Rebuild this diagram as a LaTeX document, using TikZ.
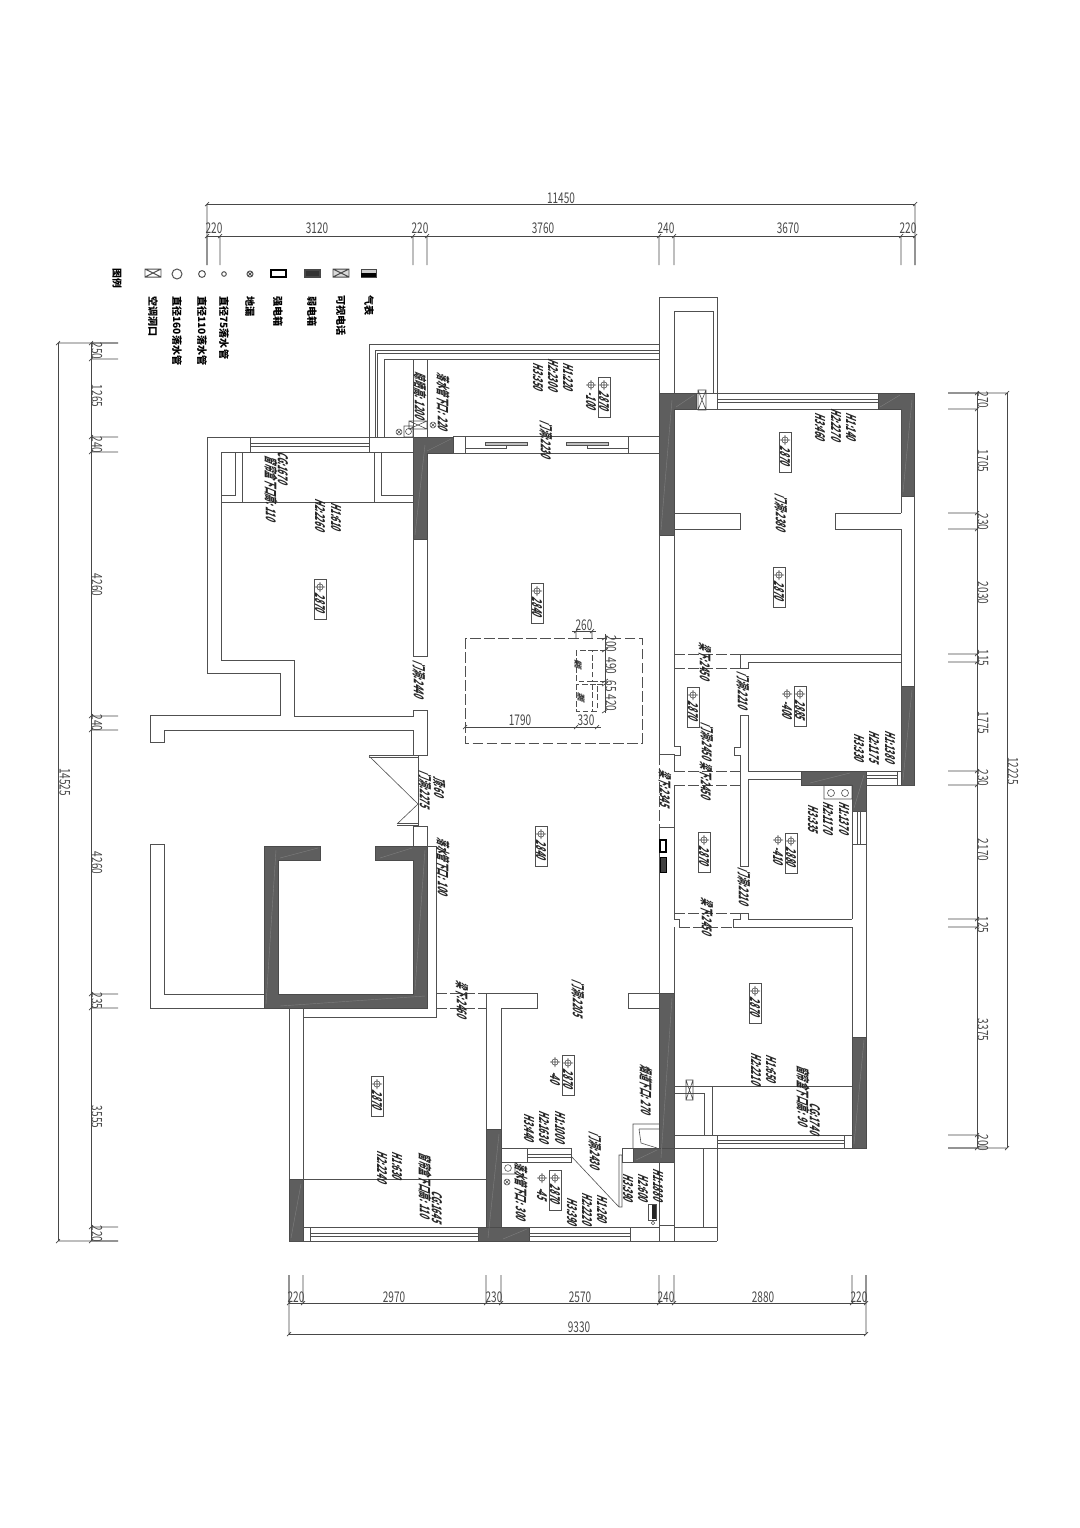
\documentclass[tikz,border=0pt]{standalone}
\usepackage{fontspec}
\setmainfont{Noto Sans CJK SC}
\usetikzlibrary{positioning}
\definecolor{planline}{HTML}{505050}
\definecolor{dimgray}{HTML}{484848}
\definecolor{wallfill}{HTML}{5E5E5E}
\definecolor{wallseam}{HTML}{7E7E7E}

\newcommand{\levelbox}[4]{%
  \node[levelframe] (#1) at (#2,#3+20) {};
  \draw[markline] (#2,#3+8) circle (3.2*0.025cm) (#2-5,#3+8) -- (#2+5,#3+8) (#2,#3+3) -- (#2,#3+13);
  \node[planlabel] (#1t) at (#2,#3+25) {#4};
}
\newcommand{\levelmark}[4]{%
  \draw[markline] (#2,#3) circle (3.2*0.025cm) (#2-5,#3) -- (#2+5,#3) (#2,#3-5) -- (#2,#3+5);
  \node[planlabel] (#1) at (#2,#3+17) {#4};
}

\begin{document}
\begin{tikzpicture}[
    x=0.025cm, y=-0.025cm,
    wall/.style={draw=planline, line width=0.55pt},
    thinwall/.style={draw=planline, line width=0.42pt},
    solidwall/.style={fill=wallfill, draw=wallfill!80!black, line width=0.5pt},
    seam/.style={draw=wallseam, line width=0.3pt},
    dimline/.style={draw=dimgray, line width=0.5pt},
    dashline/.style={draw=planline, line width=0.55pt, dash pattern=on 7.5pt off 2.5pt},
    markline/.style={draw=planline, line width=0.4pt},
    levelframe/.style={draw=planline, line width=0.5pt, minimum width=0.3cm, minimum height=1cm, inner sep=0pt},
    dimlabel/.style={font=\fontsize{10.5}{11}\selectfont, text=dimgray, inner sep=0pt, xscale=0.68},
    sidelabel/.style={font=\fontsize{10.5}{11}\selectfont, text=dimgray, inner sep=0pt, rotate=-90, xscale=0.68},
    planlabel/.style={font=\fontsize{9.6}{10}\selectfont\bfseries, text=black!85, inner sep=0pt, rotate=-90, xslant=0.4, xscale=0.56},
    legendlabel/.style={font=\fontsize{7.2}{8}\selectfont\bfseries, text=black, inner sep=0pt, rotate=-90, anchor=west}
]
\useasboundingbox (0,0) rectangle (1080,1528);
\fill[white] (0,0) rectangle (1080,1528);

% solid walls
\fill[solidwall] (413,437) -- (453,437) -- (453,453) -- (427,453) -- (427,539) -- (413,539) -- cycle;
\fill[solidwall] (659,393) -- (696,393) -- (696,409) -- (674,409) -- (674,535) -- (659,535) -- cycle;
\fill[solidwall] (878,393) -- (914,393) -- (914,496) -- (901,496) -- (901,409) -- (878,409) -- cycle;
\fill[solidwall] (901,686) rectangle (914,785);
\fill[solidwall] (801,771) -- (866,771) -- (866,811) -- (852,811) -- (852,785) -- (801,785) -- cycle;
\fill[solidwall] (264,846) -- (320,846) -- (320,860) -- (278,860) -- (278,994) -- (413,994) -- (413,860) -- (375,860) -- (375,846) -- (427,846) -- (427,1008) -- (264,1008) -- cycle;
\fill[solidwall] (659,993) rectangle (674,1162);
\fill[solidwall] (633,1148) rectangle (674,1162);
\fill[solidwall] (852,1037) rectangle (866,1148);
\fill[solidwall] (289,1179) rectangle (303,1241);
\fill[solidwall] (486,1129) rectangle (501,1241);
\fill[solidwall] (478,1227) rectangle (529,1241);

% seams in the solid walls
\draw[seam] (415,535) -- (425,445) (427,451) -- (451,439);
\draw[seam] (661,530) -- (672,400) (676,407) -- (694,395);
\draw[seam] (903,492) -- (912,400) (880,407) -- (900,395);
\draw[seam] (903,780) -- (912,690) (810,783) -- (850,773) (854,808) -- (864,775);
\draw[seam] (266,1004) -- (276,850) (280,1006) -- (425,996) (415,990) -- (425,850) (380,858) -- (412,848) (280,858) -- (318,848);
\draw[seam] (661,1158) -- (672,998) (636,1160) -- (657,1150);
\draw[seam] (854,1144) -- (864,1040) (291,1238) -- (301,1184) (488,1238) -- (499,1134) (503,1239) -- (527,1229);

% left wing
\draw[wall] (221,452) -- (413,452) (207,437) -- (413,437);
\draw[wall] (207,437) -- (207,673) -- (280,673) -- (280,715) -- (150,715) -- (150,742) -- (164,742) -- (164,730) -- (413,730) -- (413,755) -- (427,755) -- (427,710) -- (413,710) -- (413,716) -- (294,716) -- (294,660) -- (221,660) -- (221,452);
\draw[wall] (413,539) -- (413,656) -- (427,656) -- (427,539);
\draw[wall] (250,437) -- (250,452) (369,437) -- (369,452);
\draw[thinwall] (250,443) -- (369,443) (250,446) -- (369,446);
\draw[wall] (221,502) -- (413,502);
\draw[thinwall] (235,452) -- (235,495) -- (221,495) (242,452) -- (242,502) (374,452) -- (374,502) (381,452) -- (381,495) -- (413,495);
\draw[wall] (413,452) -- (413,437);

% top balcony
\draw[wall] (369,437) -- (369,344) -- (659,344);
\draw[thinwall] (375,437) -- (375,350) -- (659,350) (377,437) -- (377,353) -- (659,353);
\draw[wall] (384,437) -- (384,359) -- (659,359) (413,359) -- (413,437) (427,359) -- (427,437);
\draw[thinwall] (404,426) rectangle (413,437) (409,421) rectangle (427,429) (409,421) -- (427,429) (409,429) -- (427,421);
\draw[markline] (408.5,431.5) circle (3*0.025cm) (399,432) circle (3*0.025cm) (399-2,432-2) -- (399+2,432+2) (399-2,432+2) -- (399+2,432-2);
\draw[markline] (433,425) circle (3*0.025cm) (433-2,425-2) -- (433+2,425+2) (433-2,425+2) -- (433+2,425-2);
\draw[wall] (453,436) -- (659,436) (453,453) -- (659,453) (465,436) -- (465,453) (628,436) -- (628,453);
\draw[thinwall, fill=black!25] (485,442) rectangle (527,445) (566,442) rectangle (608,445);
\draw[thinwall] (465,448) -- (506,448) -- (506,445) (628,448) -- (587,448) -- (587,445);

% upper right tower and bedrooms
\draw[wall] (659,393) -- (659,297) -- (717,297) -- (717,393) (674,393) -- (674,311) -- (713,311) -- (713,393);
\draw[wall] (696,393) -- (878,393) (696,409) -- (878,409) (717,393) -- (717,409);
\draw[thinwall] (717,399) -- (878,399) (717,402) -- (878,402);
\draw[thinwall, draw=dimgray] (698,390) rectangle (706,410) (698,390) -- (706,410) (698,410) -- (706,390);
\draw[wall] (674,513) -- (740,513) -- (740,529) -- (674,529) (901,513) -- (835,513) -- (835,529) -- (901,529);
\draw[wall] (901,409) -- (901,513) (901,529) -- (901,686) (914,496) -- (914,686);
\draw[wall] (740,654) -- (901,654) (748,662) -- (901,662);
\draw[wall] (659,535) -- (659,754) -- (674,754) (659,827) -- (659,993) (659,827) -- (674,827);
\draw[wall] (674,535) -- (674,746) -- (680,746) -- (680,755) -- (674,755) -- (674,771) (674,785) -- (674,919) -- (679,919) -- (679,927) (674,927) -- (674,993);
\draw[dashline] (659,754) -- (659,827) (674,754) -- (674,771) (674,785) -- (674,827);
\draw[wall] (740,654) -- (740,668) -- (748,668) -- (748,662);
\draw[wall] (740,715) -- (748,715) -- (748,771) -- (801,771) (740,715) -- (740,747) -- (734,747) -- (734,755) -- (740,755) -- (740,866) -- (748,866) -- (748,779) -- (801,779);
\draw[dashline] (674,654) -- (740,654) (674,668) -- (740,668) (674,771) -- (740,771) (674,785) -- (740,785) (674,913) -- (740,913) (679,927) -- (733,927);
\draw[wall] (740,913) -- (748,913) -- (748,919) -- (852,919) (740,913) -- (740,919) -- (733,919) -- (733,927) -- (852,927);

% small room on the right, shaft and windows
\draw[wall] (901,771) -- (866,771) (866,785) -- (901,785) (901,686) -- (901,771) (914,785) -- (901,785);
\draw[thinwall] (866,775) -- (897,775) (866,778) -- (897,778) (897,771) -- (897,785);
\draw[thinwall] (824,785) rectangle (852,799) (831,793) circle (3.5*0.025cm) (845,793) circle (3.5*0.025cm);
\draw[wall] (852,799) -- (852,919) (852,811) -- (866,811) (852,844) -- (866,844) (866,811) -- (866,1037);
\draw[thinwall] (857,811) -- (857,844) (860,811) -- (860,844);
\draw[wall] (852,927) -- (852,1037);

% lower right room
\draw[wall] (674,1086) -- (852,1086) (674,1093) -- (704,1093) -- (704,1135) (712,1086) -- (712,1135);
\draw[thinwall, draw=dimgray] (686,1080) rectangle (693,1100) (686,1080) -- (693,1100) (686,1100) -- (693,1080);
\draw[wall] (674,1135) -- (852,1135) (674,1148) -- (852,1148) (717,1135) -- (717,1241) (844,1135) -- (844,1148);
\draw[thinwall] (717,1140) -- (844,1140) (717,1143) -- (844,1143);
\draw[wall] (703,1148) -- (703,1227) -- (674,1227) (659,1162) -- (659,1241) (674,1162) -- (674,1241);

% entrance and left lobby
\draw[wall] (413,826) -- (427,826) -- (427,846) (413,826) -- (413,846);
\draw[thinwall] (369,755) -- (418,755) -- (418,825) -- (397,825) (369,757) -- (418,757) (397,823) -- (418,823);
\draw[thinwall] (369,756) -- (418,804) -- (397,824);
\draw[wall] (264,994) -- (164,994) -- (164,844) -- (150,844) -- (150,1008) -- (264,1008);
\draw[wall] (427,846) -- (436,846) -- (436,1017) -- (303,1017);
\draw[dashline] (436,993.5) -- (486,993.5) (436,1008) -- (486,1008);

% lower left room
\draw[wall] (289,1008) -- (289,1179) (303,1008) -- (303,1179) (303,1179) -- (486,1179);
\draw[wall] (486,993) -- (537,993) -- (537,1008) -- (501,1008) -- (501,1129) (486,993) -- (486,1129);
\draw[wall] (628,993) -- (659,993) (628,1008) -- (659,1008) (628,993) -- (628,1008);
\draw[wall] (289,1241) -- (478,1241) (303,1227) -- (478,1227) (310,1227) -- (310,1241);
\draw[thinwall] (310,1233) -- (478,1233) (310,1236) -- (478,1236);

% kitchen and bathroom
\draw[wall] (501,1148) -- (571,1148) -- (571,1162) -- (501,1162) (527,1148) -- (527,1162);
\draw[thinwall] (527,1154) -- (571,1154) (527,1157) -- (571,1157);
\draw[thinwall] (501,1174) -- (515,1174) -- (515,1162) (508,1168) circle (3.4*0.025cm) (507,1182) circle (3*0.025cm) (507-2,1182-2) -- (507+2,1182+2) (507-2,1182+2) -- (507+2,1182-2);
\draw[thinwall] (571,1156) -- (619,1207) -- (622,1207) -- (622,1155) -- (619,1155) -- (619,1207);
\draw[wall] (622,1162) -- (622,1148) -- (633,1148) (622,1162) -- (659,1162);
\draw[thinwall] (633,1148) -- (633,1124) -- (659,1124) (639,1129) -- (659,1129) (639,1129) -- (641,1143) -- (657,1148);
\draw[wall] (529,1227) -- (659,1227) (529,1241) -- (717,1241) (630,1227) -- (630,1241) (659,1225) -- (674,1225) (703,1227) -- (717,1227);
\draw[thinwall] (529,1233) -- (630,1233) (529,1236) -- (630,1236);
\draw[wall] (501,1162) -- (501,1227);

% boxes on the walls
\draw[line width=1pt, draw=black, fill=white] (660,840) rectangle (666,852);
\draw[line width=0.6pt, draw=black, fill=black!75] (660,857) rectangle (666,872);
\draw[line width=0.6pt, draw=planline, fill=white] (648,1204) rectangle (656,1220);
\fill[black!85] (652,1205) rectangle (655.5,1219);
\draw[markline] (653,1223) circle (1.7*0.025cm);

% dashed area
\draw[dashline] (465,638) rectangle (642,743);
\draw[dashline, dash pattern=on 4pt off 2pt] (576,650) rectangle (592,681) (592,650) -- (606,650) (592,681) -- (606,681);
\draw[dashline, dash pattern=on 4pt off 2pt] (576,684) rectangle (597,711) (597,684) -- (606,684) (592,684) -- (592,711);
\node[planlabel, font=\fontsize{5.6}{6}\selectfont\bfseries] (cabinetA) at (578,665) {餐柜};
\node[planlabel, font=\fontsize{5.6}{6}\selectfont\bfseries] (cabinetB) at (581,698) {酒柜};
\draw[dimline] (465,727) -- (601,727) (605,634) -- (605,713) (572,631) -- (596,631);
\foreach \y in {638,650,681,684,711} {\draw[dimline] (602,\y+2) -- (608,\y-2);}
\foreach \x in {465,576,597} {\draw[dimline] (\x-2,729) -- (\x+2,725);}
\foreach \x in {576,592} {\draw[dimline] (\x-2,633) -- (\x+2,629) (\x,631) -- (\x,638);}
\node[dimlabel] (dimA) at (520,720) {1790};
\node[dimlabel] (dimB) at (586,720.5) {330};
\node[dimlabel] (dimC) at (584,625) {260};
\node[sidelabel] (dimD) at (611,644) {200};
\node[sidelabel] (dimE) at (611,666) {490};
\node[sidelabel] (dimF) at (611,686) {65};
\node[sidelabel] (dimG) at (611,703) {420};

% dimensions, top
\draw[dimline] (207,204) -- (915,204) (207,236) -- (915,236);
\foreach \x in {207,915} {\draw[dimline] (\x,204) -- (\x,265) (\x-2,206) -- (\x+2,202);}
\foreach \x in {207,220,413,427,659,674,901,915} {\draw[dimline] (\x,236) -- (\x,265) (\x-2,238) -- (\x+2,234);}
\node[dimlabel] (top) at (561,198) {11450};
\node[dimlabel] (topA) at (214,228) {220};
\node[dimlabel] (topB) at (317,228) {3120};
\node[dimlabel] (topC) at (420,228) {220};
\node[dimlabel] (topD) at (543,228) {3760};
\node[dimlabel] (topE) at (666,228) {240};
\node[dimlabel] (topF) at (788,228) {3670};
\node[dimlabel] (topG) at (908,228) {220};

% dimensions, left
\draw[dimline] (58,343) -- (58,1241) (91,343) -- (91,1241);
\foreach \y in {343,1241} {\draw[dimline] (58,\y) -- (118,\y) (56,\y+2) -- (60,\y-2);}
\foreach \y in {343,359,437,452,716,730,994,1008,1227,1241} {\draw[dimline] (91,\y) -- (118,\y) (89,\y+2) -- (93,\y-2);}
\node[sidelabel] (lft) at (65,782) {14525};
\node[sidelabel] (lftA) at (97,351) {250};
\node[sidelabel] (lftB) at (97,396) {1265};
\node[sidelabel] (lftC) at (97,445) {240};
\node[sidelabel] (lftD) at (97,585) {4260};
\node[sidelabel] (lftE) at (97,723) {240};
\node[sidelabel] (lftF) at (97,863) {4260};
\node[sidelabel] (lftG) at (97,1001) {235};
\node[sidelabel] (lftH) at (97,1117) {3555};
\node[sidelabel] (lftI) at (97,1234) {220};

% dimensions, right
\draw[dimline] (977,393) -- (977,1148) (1007,393) -- (1007,1148);
\foreach \y in {393,1148} {\draw[dimline] (948,\y) -- (1007,\y) (1005,\y+2) -- (1009,\y-2);}
\foreach \y in {393,409,513,529,654,662,771,785,919,927,1135,1148} {\draw[dimline] (948,\y) -- (977,\y) (975,\y+2) -- (979,\y-2);}
\node[sidelabel] (rgt) at (1013,771) {12225};
\node[sidelabel] (rgtA) at (983,400) {270};
\node[sidelabel] (rgtB) at (983,461) {1705};
\node[sidelabel] (rgtC) at (983,522) {230};
\node[sidelabel] (rgtD) at (983,593) {2030};
\node[sidelabel] (rgtE) at (983,658) {115};
\node[sidelabel] (rgtF) at (983,723) {1775};
\node[sidelabel] (rgtG) at (983,778) {230};
\node[sidelabel] (rgtH) at (983,850) {2170};
\node[sidelabel] (rgtI) at (983,925) {125};
\node[sidelabel] (rgtJ) at (983,1030) {3375};
\node[sidelabel] (rgtK) at (983,1143) {200};

% dimensions, bottom
\draw[dimline] (289,1303) -- (866,1303) (289,1334) -- (866,1334);
\foreach \x in {289,866} {\draw[dimline] (\x,1275) -- (\x,1334) (\x-2,1336) -- (\x+2,1332);}
\foreach \x in {289,303,486,501,659,674,852,866} {\draw[dimline] (\x,1275) -- (\x,1303) (\x-2,1305) -- (\x+2,1301);}
\node[dimlabel] (botA) at (296,1297) {220};
\node[dimlabel] (botB) at (394,1297) {2970};
\node[dimlabel] (botC) at (494,1297) {230};
\node[dimlabel] (botD) at (580,1297) {2570};
\node[dimlabel] (botE) at (666,1297) {240};
\node[dimlabel] (botF) at (763,1297) {2880};
\node[dimlabel] (botG) at (859,1297) {220};
\node[dimlabel] (bot) at (579,1327) {9330};

% legend
\node[legendlabel, anchor=center, font=\fontsize{7}{7}\selectfont\bfseries] (legend) at (117,278) {图例};
\draw[markline, line width=0.7pt] (145,269) rectangle (161,277) (145,269) -- (161,277) (145,277) -- (161,269);
\draw[markline, line width=0.7pt] (177,274) circle (5*0.025cm) (202,274) circle (3.4*0.025cm) (224,274) circle (2.3*0.025cm) (250,274) circle (3*0.025cm) (248,272) -- (252,276) (248,276) -- (252,272);
\draw[line width=1.1pt, draw=black] (271,270) rectangle (286,277);
\draw[draw=dimgray, fill=black!80, line width=0.9pt] (305,270) rectangle (320,277);
\draw[draw=dimgray, fill=black!15, line width=0.7pt] (333,269) rectangle (349,277) (333,269) -- (349,277) (333,277) -- (349,269);
\draw[draw=dimgray, fill=black!20, line width=0.7pt] (361,269) rectangle (376,277);
\fill[black] (361,273) rectangle (376,277);
\node[legendlabel] (lgA) at (153,296) {空调洞口};
\node[legendlabel] (lgB) at (177,296) {直径160落水管};
\node[legendlabel] (lgC) at (202,296) {直径110落水管};
\node[legendlabel] (lgD) at (224,296) {直径75落水管};
\node[legendlabel] (lgE) at (250,296) {地漏};
\node[legendlabel] (lgF) at (278,296) {强电箱};
\node[legendlabel] (lgG) at (312,296) {弱电箱};
\node[legendlabel] (lgH) at (341,295) {可视电话};
\node[legendlabel] (lgI) at (369,295) {气表};

% levels
\levelbox{lvBalcony}{604}{377}{2870}
\levelmark{mkBalcony}{591}{385}{-100}
\levelbox{lvHall}{537}{583}{2840}
\levelbox{lvLiving}{541}{826}{2840}
\levelbox{lvBedTop}{785}{432}{2870}
\levelbox{lvBedMid}{779}{567}{2870}
\levelbox{lvAisle}{693}{687}{2870}
\levelbox{lvBathA}{800}{686}{2885}
\levelmark{mkBathA}{787}{694}{-400}
\levelbox{lvAisleB}{704}{832}{2870}
\levelbox{lvBathB}{791}{833}{2880}
\levelmark{mkBathB}{778}{840}{-410}
\levelbox{lvBedLow}{755}{983}{2870}
\levelbox{lvLeft}{320}{579}{2870}
\levelbox{lvBedLeft}{377}{1076}{2870}
\levelbox{lvKitchen}{568}{1055}{2870}
\levelmark{mkKitchen}{555}{1062}{-40}
\levelbox{lvBathC}{555}{1170}{2870}
\levelmark{mkBathC}{542}{1178}{-45}

% height notes
\node[planlabel] (noA) at (568,378) {H1:220};
\node[planlabel] (noB) at (553,376) {H2:2300};
\node[planlabel] (noC) at (538,378) {H3:350};
\node[planlabel] (noD) at (546,441) {门洞:2230};
\node[planlabel] (noE) at (443,403) {落水管下口: 220};
\node[planlabel] (noF) at (420,397) {晾晒高: 1200};
\node[planlabel] (noG) at (851,428) {H1:140};
\node[planlabel] (noH) at (836,426) {H2:2270};
\node[planlabel] (noI) at (820,428) {H3:460};
\node[planlabel] (noJ) at (781,514) {门洞:2380};
\node[planlabel] (noK) at (705,663) {梁下:2450};
\node[planlabel] (noL) at (743,692) {门洞:2210};
\node[planlabel] (noM) at (707,743) {门洞:2450};
\node[planlabel] (noN) at (706,782) {梁下:2450};
\node[planlabel] (noO) at (665,790) {梁下:2345};
\node[planlabel] (noP) at (890,748) {H1:1380};
\node[planlabel] (noQ) at (874,748) {H2:1175};
\node[planlabel] (noR) at (859,749) {H3:330};
\node[planlabel] (noS) at (844,819) {H1:1370};
\node[planlabel] (noT) at (828,819) {H2:1170};
\node[planlabel] (noU) at (813,820) {H3:335};
\node[planlabel] (noV) at (744,888) {门洞:2210};
\node[planlabel] (noW) at (707,918) {梁下:2450};
\node[planlabel] (noX) at (771,1070) {H1:650};
\node[planlabel] (noY) at (756,1070) {H2:2210};
\node[planlabel] (noZ) at (803,1097) {窗帘盒下口高: 90};
\node[planlabel] (nuA) at (815,1120) {CG:1740};
\node[planlabel] (nuB) at (578,1000) {门洞:2205};
\node[planlabel] (nuC) at (646,1091) {烟道下口: 270};
\node[planlabel] (nuD) at (560,1128) {H1:1000};
\node[planlabel] (nuE) at (544,1128) {H2:1630};
\node[planlabel] (nuF) at (529,1129) {H3:440};
\node[planlabel] (nuG) at (595,1152) {门洞:2430};
\node[planlabel] (nuH) at (658,1186) {H1:1880};
\node[planlabel] (nuI) at (643,1189) {H2:600};
\node[planlabel] (nuJ) at (628,1189) {H3:390};
\node[planlabel] (nuK) at (602,1210) {H1:260};
\node[planlabel] (nuL) at (587,1210) {H2:2220};
\node[planlabel] (nuM) at (572,1213) {H3:390};
\node[planlabel] (nuN) at (521,1193) {落水管下口: 300};
\node[planlabel] (nuO) at (283,469) {CG:1670};
\node[planlabel] (nuP) at (271,490) {窗帘盒下口高: 110};
\node[planlabel] (nuQ) at (336,518) {H1:610};
\node[planlabel] (nuR) at (320,516) {H2:2260};
\node[planlabel] (nuS) at (419,681) {门洞:2440};
\node[planlabel] (nuT) at (439,788) {顶:60};
\node[planlabel] (nuU) at (425,791) {门洞:2275};
\node[planlabel] (nuV) at (443,868) {落水管下口: 100};
\node[planlabel] (nuW) at (462,1001) {梁下:2460};
\node[planlabel] (nuX) at (437,1208) {CG:1645};
\node[planlabel] (nuY) at (425,1187) {窗帘盒下口高: 110};
\node[planlabel] (nuZ) at (397,1167) {H1:630};
\node[planlabel] (nvA) at (382,1168) {H2:2240};

\end{tikzpicture}
\end{document}
